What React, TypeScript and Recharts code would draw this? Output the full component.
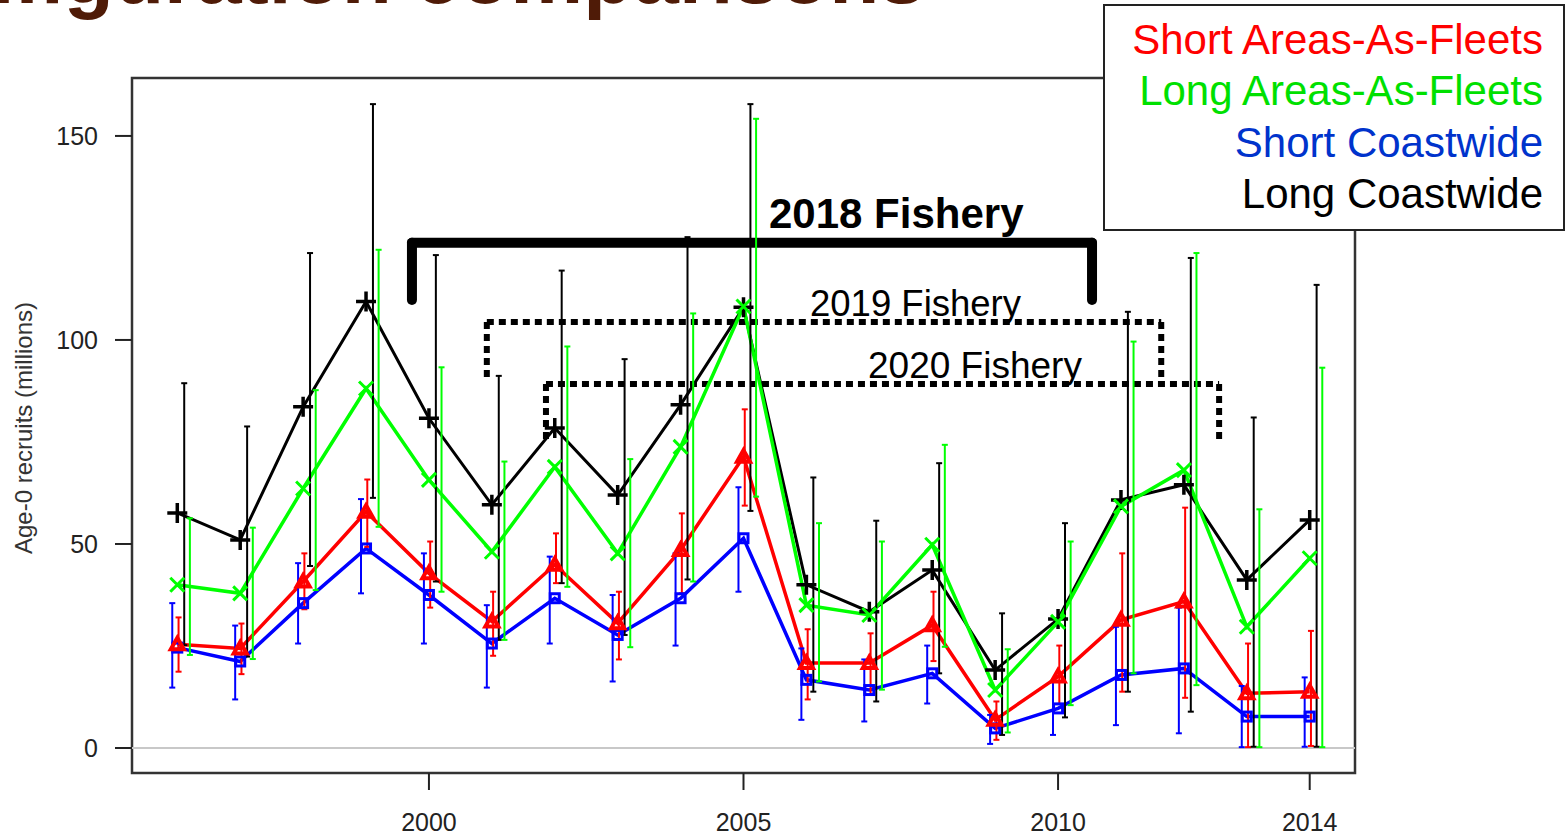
import {
  ComposedChart,
  ErrorBar,
  Line,
  ReferenceArea,
  ReferenceLine,
  XAxis,
  YAxis,
} from "recharts";

const years = [
  1996, 1997, 1998, 1999, 2000, 2001, 2002, 2003, 2004, 2005, 2006, 2007, 2008,
  2009, 2010, 2011, 2012, 2013, 2014,
];

// Short Areas-As-Fleets (red)
const shortAaf = [25.4, 24.4, 40.8, 57.9, 42.8, 31.0, 44.9, 30.6, 48.5, 71.4, 20.8, 20.8, 30.1, 6.9, 17.5, 31.4, 35.9, 13.4, 13.8];
const shortAafLo = [18.7, 18.1, 34.0, 49.3, 34.4, 22.6, 40.4, 21.7, 37.9, 59.4, 11.9, 13.0, 21.3, 2.0, 10.8, 13.8, 12.3, 0.2, 0.5];
const shortAafHi = [32.0, 30.5, 47.7, 65.8, 50.6, 38.3, 52.6, 38.3, 57.5, 83.0, 29.1, 28.1, 38.3, 11.4, 25.1, 47.7, 58.9, 25.6, 28.7];

// Long Areas-As-Fleets (green)
const longAaf = [40.0, 37.9, 63.6, 88.1, 65.7, 48.1, 68.9, 47.7, 73.8, 108.2, 35.0, 32.6, 49.8, 14.2, 30.9, 59.2, 68.1, 29.7, 46.5];
const longAafLo = [22.8, 21.8, 38.7, 54.2, 38.3, 26.5, 39.5, 24.7, 40.8, 61.6, 16.3, 14.3, 24.8, 3.8, 10.5, 18.3, 15.4, 0.2, 0.2];
const longAafHi = [56.3, 54.0, 87.7, 122.1, 93.3, 70.2, 98.4, 70.8, 106.5, 154.2, 55.1, 50.6, 74.3, 24.2, 50.6, 99.6, 121.3, 58.5, 93.2];

// Short Coastwide (blue)
const shortCw = [24.6, 21.2, 35.5, 48.9, 37.5, 25.6, 36.7, 27.7, 36.7, 51.4, 16.7, 14.2, 18.3, 4.8, 9.7, 17.9, 19.5, 7.7, 7.7];
const shortCwLo = [14.8, 11.9, 25.6, 37.9, 25.6, 14.8, 25.6, 16.3, 25.1, 38.3, 6.9, 6.5, 10.9, 1.0, 3.2, 5.6, 3.6, 0.2, 0.3];
const shortCwHi = [35.5, 30.0, 45.3, 61.0, 47.7, 35.0, 46.9, 37.5, 47.7, 63.9, 24.4, 21.7, 25.1, 8.1, 16.3, 29.7, 34.4, 15.2, 17.3];

// Long Coastwide (black)
const longCw = [57.6, 51.0, 83.6, 109.4, 80.8, 59.6, 78.4, 62.0, 84.1, 108.0, 40.0, 33.4, 43.6, 19.1, 31.6, 60.8, 64.5, 41.2, 55.9];
const longCwLo = [25.2, 22.4, 44.6, 61.3, 40.8, 26.5, 40.4, 27.7, 41.3, 58.1, 13.8, 11.4, 18.3, 3.2, 7.5, 13.8, 8.9, 0.3, 0.3];
const longCwHi = [89.4, 78.8, 121.3, 157.8, 120.8, 91.2, 117.0, 95.3, 125.2, 157.8, 66.3, 55.7, 69.8, 33.0, 55.1, 106.9, 120.1, 81.0, 113.5];

const xTicks = [2000, 2005, 2010, 2014];
const yTicks = [0, 50, 100, 150];
const X_DOMAIN: [number, number] = [1995.28, 2014.72];
const Y_DOMAIN: [number, number] = [-6.13, 164.2];

const legendLabels = [
  "Short Areas-As-Fleets",
  "Long Areas-As-Fleets",
  "Short Coastwide",
  "Long Coastwide",
];

// fishery brackets, in data units (years / millions)
const fisheries = [
  { name: "2018 Fishery", from: 1999.73, to: 2010.54, top: 123.8, foot: 109.8, solid: true },
  { name: "2019 Fishery", from: 2000.92, to: 2011.64, top: 104.4, foot: 90.7, solid: false },
  { name: "2020 Fishery", from: 2001.86, to: 2012.56, top: 89.2, foot: 75.2, solid: false },
];

type Pt = { year: number; v: number; err?: [number, number] };

const toLine = (vals: number[]): Pt[] =>
  years.map((year, i) => ({ year, v: vals[i] }));

const toErr = (vals: number[], lo: number[], hi: number[], shift: number): Pt[] =>
  years.map((year, i) => ({
    year: year + shift,
    v: vals[i],
    err: [vals[i] - lo[i], hi[i] - vals[i]],
  }));

const FONT = "'Liberation Sans', Arial, sans-serif";

const triangleDot = (p: any) => {
  const { cx, cy, index } = p;
  if (cx == null || cy == null) return <g key={`tri-${index}`} />;
  return (
    <polygon
      key={`tri-${index}`}
      points={`${cx},${cy - 6.5} ${cx + 6.5},${cy + 5} ${cx - 6.5},${cy + 5}`}
      fill="none"
      stroke="#ff0000"
      strokeWidth={4}
      strokeLinejoin="miter"
    />
  );
};

const squareDot = (p: any) => {
  const { cx, cy, index } = p;
  if (cx == null || cy == null) return <g key={`sq-${index}`} />;
  return (
    <rect
      key={`sq-${index}`}
      x={cx - 4.5}
      y={cy - 4.5}
      width={9}
      height={9}
      fill="none"
      stroke="#0000ff"
      strokeWidth={3}
    />
  );
};

const crossDot = (p: any) => {
  const { cx, cy, index } = p;
  if (cx == null || cy == null) return <g key={`x-${index}`} />;
  const r = 7;
  return (
    <path
      key={`x-${index}`}
      d={`M${cx - r},${cy - r}L${cx + r},${cy + r}M${cx - r},${cy + r}L${cx + r},${cy - r}`}
      stroke="#00ff00"
      strokeWidth={3}
    />
  );
};

const plusDot = (p: any) => {
  const { cx, cy, index } = p;
  if (cx == null || cy == null) return <g key={`p-${index}`} />;
  const r = 10;
  return (
    <path
      key={`p-${index}`}
      d={`M${cx - r},${cy}L${cx + r},${cy}M${cx},${cy - r}L${cx},${cy + r}`}
      stroke="#000000"
      strokeWidth={3.5}
    />
  );
};

const series = [
  { key: "shortCw", color: "#0000ff", vals: shortCw, lo: shortCwLo, hi: shortCwHi, shift: -0.08, dot: squareDot, width: 3.5 },
  { key: "shortAaf", color: "#ff0000", vals: shortAaf, lo: shortAafLo, hi: shortAafHi, shift: 0.02, dot: triangleDot, width: 3.5 },
  { key: "longCw", color: "#000000", vals: longCw, lo: longCwLo, hi: longCwHi, shift: 0.11, dot: plusDot, width: 3 },
  { key: "longAaf", color: "#00ff00", vals: longAaf, lo: longAafLo, hi: longAafHi, shift: 0.2, dot: crossDot, width: 3.5 },
];

const legendColors = ["#ff0000", "#00e000", "#0033cc", "#000000"];

export default function App() {
  return (
    <div
      style={{
        position: "absolute",
        left: 0,
        top: 0,
        width: 1566,
        height: 839,
        background: "#fff",
        overflow: "hidden",
        fontFamily: FONT,
      }}
    >
      <ComposedChart
        width={1566}
        height={839}
        margin={{ top: 78, right: 211, bottom: 0, left: 0 }}
      >
        <XAxis
          type="number"
          dataKey="year"
          domain={X_DOMAIN}
          allowDataOverflow
          ticks={xTicks}
          axisLine={false}
          tickSize={17}
          tickMargin={23}
          height={66}
          tickLine={{ stroke: "#222", strokeWidth: 2 }}
          tick={{ fill: "#222", fontSize: 25, fontFamily: FONT }}
        />
        <YAxis
          type="number"
          dataKey="v"
          domain={Y_DOMAIN}
          allowDataOverflow
          ticks={yTicks}
          axisLine={false}
          width={132}
          tickSize={17}
          tickMargin={17}
          tickLine={{ stroke: "#222", strokeWidth: 2 }}
          tick={{ fill: "#222", fontSize: 25, fontFamily: FONT }}
        />
        <ReferenceLine y={0} stroke="#c8c8c8" strokeWidth={2} />

        {fisheries.map((f) => {
          const style = f.solid
            ? { stroke: "#000", strokeWidth: 10, strokeLinecap: "round" as const }
            : { stroke: "#000", strokeWidth: 6, strokeDasharray: "7 5" };
          return [
            <ReferenceLine
              key={`${f.name}-top`}
              segment={[{ x: f.from, y: f.top }, { x: f.to, y: f.top }]}
              {...style}
            />,
            <ReferenceLine
              key={`${f.name}-l`}
              segment={[{ x: f.from, y: f.top }, { x: f.from, y: f.foot }]}
              {...style}
            />,
            <ReferenceLine
              key={`${f.name}-r`}
              segment={[{ x: f.to, y: f.top }, { x: f.to, y: f.foot }]}
              {...style}
            />,
          ];
        })}

        {series.map((s) => (
          <Line
            key={s.key}
            data={toLine(s.vals)}
            dataKey="v"
            type="linear"
            stroke={s.color}
            strokeWidth={s.width}
            dot={s.dot}
            activeDot={false}
            isAnimationActive={false}
          />
        ))}

        {series.map((s) => (
          <Line
            key={`${s.key}-err`}
            data={toErr(s.vals, s.lo, s.hi, s.shift)}
            dataKey="v"
            stroke="none"
            dot={false}
            activeDot={false}
            isAnimationActive={false}
          >
            <ErrorBar
              dataKey="err"
              direction="y"
              width={3}
              stroke={s.color}
              strokeWidth={2}
            />
          </Line>
        ))}

        <ReferenceArea
          x1={X_DOMAIN[0]}
          x2={X_DOMAIN[1]}
          y1={Y_DOMAIN[0]}
          y2={Y_DOMAIN[1]}
          fill="none"
          stroke="#333"
          strokeWidth={2.5}
        />
      </ComposedChart>

      <svg
        width={1566}
        height={839}
        style={{ position: "absolute", left: 0, top: 0, pointerEvents: "none" }}
        fontFamily={FONT}
      >
        <text x={925} y={3} textAnchor="end" fontSize={82} fontWeight="bold" fill="#4f1b07">
          Model configuration comparisons
        </text>

        <text
          x={32}
          y={428}
          transform="rotate(-90 32 428)"
          textAnchor="middle"
          fontSize={24}
          fill="#333"
        >
          Age-0 recruits (millions)
        </text>

        <text x={769} y={228} fontSize={42} fontWeight="bold" fill="#000">
          {fisheries[0].name}
        </text>
        <text x={810} y={316} fontSize={36.5} fill="#000">
          {fisheries[1].name}
        </text>
        <text x={868} y={378} fontSize={37} fill="#000">
          {fisheries[2].name}
        </text>

        <rect x={1104} y={5} width={460} height={225} fill="#fff" stroke="#222" strokeWidth={2} />
        {legendLabels.map((label, i) => (
          <text
            key={label}
            x={1543}
            y={54 + i * 51.3}
            textAnchor="end"
            fontSize={42}
            fill={legendColors[i]}
          >
            {label}
          </text>
        ))}
      </svg>
    </div>
  );
}
